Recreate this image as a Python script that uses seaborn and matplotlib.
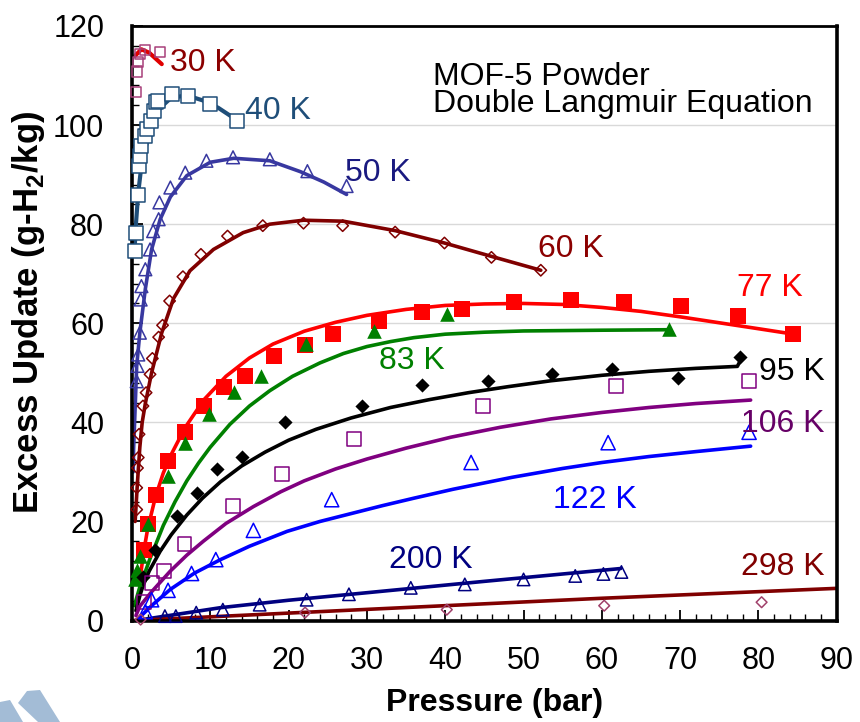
import matplotlib
matplotlib.use("Agg")
import matplotlib.pyplot as plt
from matplotlib.patches import Polygon
from matplotlib.ticker import MultipleLocator
import seaborn as sns

# ---- measured isotherms: pressure (bar) vs excess uptake (g-H2/kg) ----
p30 = [0.5, 0.6, 0.8, 1.0, 1.7, 3.6]
q30 = [106.7, 110.8, 112.7, 114.3, 115.2, 114.7]

p40 = [0.4, 0.45, 0.8, 0.9, 1.0, 1.2, 1.6, 1.9, 2.4, 2.8, 3.1, 3.3, 5.1, 7.2, 9.9, 13.4]
q40 = [74.6, 78.3, 85.9, 91.8, 93.8, 95.8, 97.8, 99.2, 100.9, 102.9, 104.6, 104.9, 106.3, 105.9, 104.2, 100.9]

p50 = [0.6, 0.7, 0.8, 1.0, 1.1, 1.2, 1.7, 2.3, 2.7, 3.4, 3.5, 4.9, 6.8, 9.5, 12.9, 17.6, 22.4, 27.4]
q50 = [48.3, 51.4, 53.7, 58.1, 64.8, 67.5, 70.9, 74.9, 78.6, 81.0, 84.4, 87.4, 90.4, 92.8, 93.5, 93.1, 90.7, 87.7]

p60 = [0.6, 0.6, 0.7, 0.8, 0.9, 1.4, 1.8, 2.3, 2.6, 3.4, 3.9, 4.8, 6.5, 8.8, 12.2, 16.7, 21.9, 26.9, 33.6, 39.9, 45.9, 52.2]
q60 = [22.4, 26.8, 30.8, 32.9, 37.6, 43.3, 46.0, 49.7, 52.9, 57.2, 59.6, 64.5, 69.4, 73.9, 77.6, 79.7, 80.2, 79.7, 78.4, 76.2, 73.3, 70.7]

p77 = [1.5, 2.1, 3.1, 4.6, 6.8, 9.2, 11.8, 14.4, 18.1, 22.1, 25.7, 31.5, 37.0, 42.2, 48.8, 56.0, 62.8, 70.1, 77.4, 84.4]
q77 = [14.3, 19.4, 25.3, 32.2, 38.1, 43.3, 47.1, 49.4, 53.3, 55.6, 57.8, 60.4, 62.2, 62.8, 64.2, 64.6, 64.2, 63.4, 61.4, 57.8]

p83 = [0.4, 0.6, 1.0, 2.1, 4.6, 6.8, 9.8, 13.0, 16.5, 22.2, 30.9, 40.2, 68.6]
q83 = [8.3, 10.3, 13.0, 19.4, 29.2, 35.9, 41.6, 46.1, 49.4, 55.8, 58.4, 61.8, 58.8]

p95 = [1.4, 2.9, 5.7, 8.3, 10.8, 14.0, 19.6, 29.4, 37.0, 45.4, 53.6, 61.3, 69.7, 77.7]
q95 = [8.8, 14.3, 21.1, 25.8, 30.6, 33.1, 40.1, 43.3, 47.5, 48.3, 49.8, 50.7, 49.0, 53.1]

p106 = [1.5, 2.5, 4.1, 6.7, 12.9, 19.1, 28.4, 44.8, 61.8, 78.8]
q106 = [3.7, 7.5, 10.0, 15.5, 23.2, 29.6, 36.6, 43.3, 47.3, 48.3]

p122 = [1.7, 2.5, 4.6, 7.6, 10.7, 15.5, 25.5, 43.3, 60.8, 78.8]
q122 = [1.8, 4.2, 6.1, 9.5, 12.3, 18.2, 24.4, 31.9, 35.9, 38.0]

p200 = [4.2, 5.6, 8.2, 11.6, 16.3, 22.3, 27.7, 35.6, 42.5, 50.0, 56.6, 60.2, 62.5]
q200 = [0.9, 0.9, 1.6, 2.2, 3.2, 4.2, 5.3, 6.6, 7.3, 8.3, 9.0, 9.4, 9.8]

p298 = [1.1, 22.1, 40.2, 60.3, 80.4]
q298 = [0.2, 1.6, 2.2, 3.0, 3.7]

# ---- double Langmuir fitted curves ----
f30_p = [0.4, 1.2, 2.2, 3.8]
f30_q = [114.0, 115.3, 114.6, 112.3]

f40_p = [0.3, 0.5, 0.8, 1.2, 1.9, 2.7, 3.6, 5.0, 7.0, 9.0, 11.0, 13.4]
f40_q = [74.0, 80.0, 86.4, 91.8, 96.5, 101.0, 103.5, 105.5, 106.0, 105.0, 103.5, 101.0]

f50_p = [0.15, 0.2, 0.6, 1.0, 1.7, 2.5, 3.6, 4.9, 7.0, 10.0, 13.0, 17.6, 21.5, 24.5, 27.4]
f50_q = [30.0, 34.5, 51.4, 58.1, 66.9, 74.9, 81.0, 85.5, 89.8, 92.5, 93.3, 92.8, 90.6, 88.5, 86.0]

f60_p = [0.4, 0.7, 1.0, 1.3, 1.7, 2.5, 3.8, 5.3, 7.4, 10.4, 14.2, 17.6, 21.9, 27.0, 33.6, 39.9, 45.9, 52.2]
f60_q = [20.0, 28.0, 35.0, 40.0, 43.8, 50.0, 58.1, 65.0, 70.6, 74.9, 78.3, 80.0, 80.8, 80.6, 78.7, 76.2, 73.5, 70.7]

f77_p = [1.0, 1.5, 2.0, 3.0, 4.0, 5.0, 6.8, 9.2, 12.0, 15.0, 18.0, 22.0, 26.0, 30.0, 35.0,
         40.0, 45.0, 50.0, 55.0, 60.0, 65.0, 70.0, 75.0, 80.0, 84.5]
f77_q = [8.0, 14.0, 18.5, 25.0, 29.8, 33.5, 39.0, 44.6, 49.3, 53.0, 55.8, 58.4, 60.2, 61.6, 62.8,
         63.6, 63.9, 64.0, 63.8, 63.2, 62.4, 61.3, 60.1, 58.9, 57.8]

f83_p = [0.3, 1.0, 2.3, 4.0, 5.5, 7.0, 8.5, 10.0, 12.5, 15.0, 17.6, 20.5, 24.0, 27.0, 30.0,
         33.0, 36.0, 40.0, 45.0, 50.0, 60.0, 68.6]
f83_q = [3.0, 6.8, 12.5, 19.2, 24.0, 28.2, 31.8, 35.0, 39.6, 43.3, 46.4, 49.3, 52.0, 53.9, 55.3,
         56.3, 57.1, 57.8, 58.2, 58.45, 58.6, 58.7]

f95_p = [0.5, 1.0, 1.4, 2.2, 3.6, 5.0, 7.0, 9.0, 11.3, 14.0, 17.0, 20.0, 23.5, 28.0, 33.0,
         38.0, 43.0, 48.0, 53.5, 60.0, 66.0, 72.0, 77.3, 77.7]
f95_q = [2.0, 5.0, 7.0, 10.0, 14.0, 17.3, 21.3, 24.7, 28.0, 31.2, 34.0, 36.4, 38.6, 40.9, 43.0,
         44.6, 46.0, 47.2, 48.4, 49.5, 50.3, 50.9, 51.3, 52.5]

f106_p = [0.5, 1.0, 2.5, 4.9, 7.0, 9.1, 12.0, 15.5, 19.0, 22.0, 26.0, 30.0, 35.0, 40.7, 47.0,
          53.5, 60.0, 66.0, 72.0, 79.0]
f106_q = [1.0, 2.9, 5.8, 10.0, 13.2, 16.0, 19.6, 23.0, 26.0, 28.2, 30.6, 32.6, 34.8, 37.0, 39.0,
          40.7, 42.0, 43.0, 43.8, 44.5]

f122_p = [0.6, 1.2, 2.5, 4.9, 8.0, 11.3, 15.0, 19.8, 24.0, 28.0, 32.0, 36.0, 41.0, 48.5, 55.0,
          60.0, 66.0, 72.0, 79.0]
f122_q = [0.0, 1.0, 3.0, 6.3, 9.6, 12.3, 15.0, 18.0, 20.0, 21.6, 23.2, 24.7, 26.5, 28.9, 30.7,
          31.9, 33.1, 34.1, 35.2]

f200_p = [0.5, 11.3, 20.0, 27.9, 44.9, 62.4]
f200_q = [0.0, 2.6, 4.1, 5.3, 7.9, 10.5]

f298_p = [0.0, 27.9, 60.0, 90.0]
f298_q = [0.0, 2.1, 4.5, 6.5]

series_labels = ["30 K", "40 K", "50 K", "60 K", "77 K", "83 K", "95 K",
                 "106 K", "122 K", "200 K", "298 K"]
label_xy = [(9.1, 112.6), (18.6, 102.9), (31.4, 90.4), (56.1, 74.9), (81.4, 67.2),
            (35.8, 52.4), (84.3, 50.2), (83.1, 39.6), (59.1, 24.4), (38.2, 12.2),
            (83.1, 10.8)]
label_colors = ["#8b0000", "#1f4e79", "#1a1a80", "#8b0000", "#ff0000", "#008000",
                "#000000", "#660066", "#0000ff", "#000080", "#800000"]

title_lines = ["MOF-5 Powder", "Double Langmuir Equation"]

sns.set_theme(style="white")
plt.rcParams["font.family"] = ["Liberation Sans", "DejaVu Sans"]
plt.rcParams["mathtext.fontset"] = "custom"
plt.rcParams["mathtext.rm"] = "Liberation Sans"
plt.rcParams["mathtext.bf"] = "Liberation Sans:bold"
plt.rcParams["text.color"] = "black"
plt.rcParams["axes.labelcolor"] = "black"
plt.rcParams["xtick.color"] = "black"
plt.rcParams["ytick.color"] = "black"

fig = plt.figure(figsize=(8.6, 7.22), dpi=100)
ax = fig.add_axes([0.1535, 0.1405, 0.8195, 0.8235])

# horizontal gridlines
for yv in [20, 40, 60, 80, 100]:
    ax.axhline(yv, color="#d9d9d9", lw=1.0, zorder=0)


def fit_line(px, qy, color, lw=2.6):
    sns.lineplot(x=px, y=qy, sort=False, estimator=None, color=color,
                 linewidth=lw, ax=ax, zorder=2)


def points(px, qy, marker, size, edge, face="none", lw=1.1):
    sns.scatterplot(x=px, y=qy, marker=marker, s=size, color=edge,
                    facecolor=face, edgecolor=edge, linewidth=lw,
                    ax=ax, zorder=3, clip_on=False)


# 30 K
fit_line(f30_p, f30_q, "#e00000", 3.0)
points(p30, q30, "s", 55, "#a8407a")
# 40 K
fit_line(f40_p, f40_q, "#1f4e79", 3.0)
points(p40, q40, "s", 95, "#1f4e79", face="white")
# 50 K
fit_line(f50_p, f50_q, "#3838a0")
points(p50, q50, "^", 85, "#3838a0")
# 60 K
fit_line(f60_p, f60_q, "#800000")
points(p60, q60, "D", 34, "#800000")
# 77 K
fit_line(f77_p, f77_q, "#ff0000")
points(p77, q77, "s", 120, "#ff0000", face="#ff0000", lw=0)
# 83 K
fit_line(f83_p, f83_q, "#008000")
points(p83, q83, "^", 110, "#008000", face="#008000", lw=0)
# 95 K
fit_line(f95_p, f95_q, "#000000")
points(p95, q95, "D", 52, "#000000", face="#000000", lw=0)
# 106 K
fit_line(f106_p, f106_q, "#800080")
points(p106, q106, "s", 100, "#800080")
# 122 K
fit_line(f122_p, f122_q, "#0000ff")
points(p122, q122, "^", 105, "#0000ff")
# 200 K
fit_line(f200_p, f200_q, "#000080")
points(p200, q200, "^", 80, "#000080")
# 298 K
fit_line(f298_p, f298_q, "#800000")
points(p298, q298, "D", 30, "#a0406a")

for txt, (lx, ly), c in zip(series_labels, label_xy, label_colors):
    ax.text(lx, ly, txt, color=c, fontsize=23, ha="center", va="center", zorder=5)

ax.text(38.5, 108.1, title_lines[0], fontsize=23, ha="left", va="baseline", color="black")
ax.text(38.5, 102.6, title_lines[1], fontsize=23, ha="left", va="baseline", color="black")

ax.set_xlim(0, 90)
ax.set_ylim(0, 120)
ax.xaxis.set_major_locator(MultipleLocator(10))
ax.xaxis.set_minor_locator(MultipleLocator(2))
ax.yaxis.set_major_locator(MultipleLocator(20))
ax.yaxis.set_minor_locator(MultipleLocator(4))
ax.tick_params(which="major", direction="in", length=8, width=1.3, labelsize=22,
               bottom=True, left=True, top=False, right=False,
               color="black", labelcolor="black")
ax.tick_params(which="minor", direction="in", length=5, width=1.0,
               bottom=True, left=True, top=False, right=False, color="black")
ax.tick_params(axis="y", which="major", pad=20)
ax.tick_params(axis="x", which="major", pad=18)
for side in ["left", "bottom", "right", "top"]:
    ax.spines[side].set_color("black")
    ax.spines[side].set_linewidth(2.6)
    ax.spines[side].set_visible(True)
ax.spines["top"].set_linewidth(2.0)

ax.set_xlabel("Pressure (bar)", fontsize=23, fontweight="bold", color="black")
ax.xaxis.set_label_coords(0.515, -0.113)
ax.set_ylabel(r"Excess Update (g-H$_\mathbf{2}$/kg)", fontsize=25,
              fontweight="bold", color="black")
ax.yaxis.set_label_coords(-0.121, 0.518)

# corner logo
logo_color = "#a3bcd6"
fig.patches.append(Polygon([(0, 20 / 722), (10 / 860, 22 / 722), (23 / 860, 0), (0, 0)],
                           closed=True, transform=fig.transFigure,
                           facecolor=logo_color, edgecolor="none"))
fig.patches.append(Polygon([(18 / 860, 19 / 722), (27 / 860, 31 / 722), (40 / 860, 32 / 722),
                            (60 / 860, 0), (38 / 860, 0)],
                           closed=True, transform=fig.transFigure,
                           facecolor=logo_color, edgecolor="none"))

fig.savefig("out.png", dpi=100)
